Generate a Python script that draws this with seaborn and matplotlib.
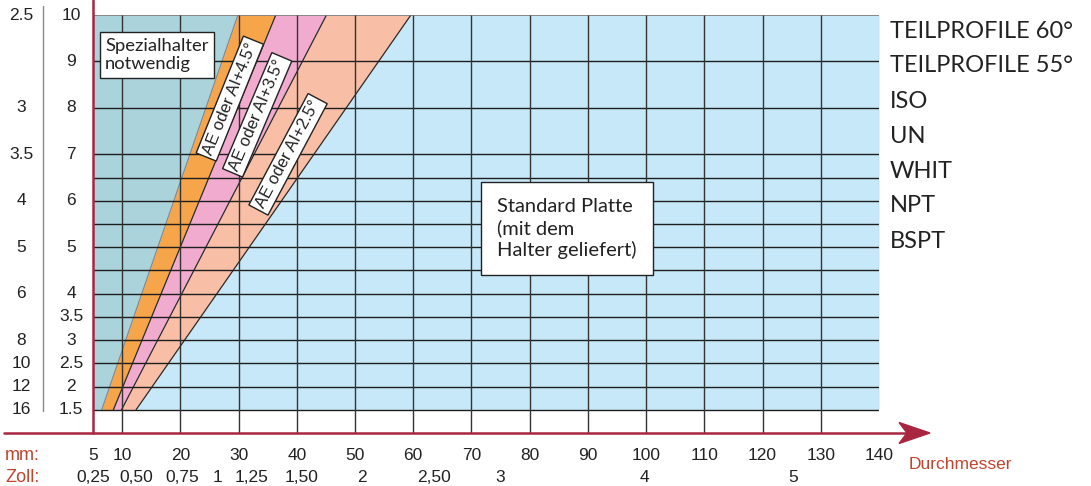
import matplotlib
matplotlib.use('Agg')
import matplotlib.pyplot as plt
import matplotlib.transforms as mtransforms
from matplotlib.patches import Polygon
import pandas as pd
import seaborn as sns


# diameter axis (mm) and inch labels
mm_ticks = [5, 10, 20, 30, 40, 50, 60, 70, 80, 90, 100, 110, 120, 130, 140]
zoll_labels = ['0,25', '0,50', '0,75', '1', '1,25', '1,50', '2', '2,50', '3', '4', '5']
zoll_at_mm = [5, 12.4, 20.3, 26.3, 32.2, 40.8, 51.2, 63.5, 75, 99.7, 125.2]

# pitch axis (mm) and threads per inch
pitch_labels = [10, 9, 8, 7, 6, 5, 4, 3.5, 3, 2.5, 2, 1.5]
pitch_grid = [1.5, 2, 2.5, 3, 3.5, 4, 4.5, 5, 5.5, 6, 6.5, 7, 8, 9]
tpi_labels = ['2.5', '3', '3.5', '4', '5', '6', '8', '10', '12', '16']
tpi_at_pitch = [10, 8, 7, 6, 5, 4, 3, 2.5, 2, 1.5]

# band borders: diameter (mm) at pitch 1.5 and at pitch 10
band_pitch = [1.5, 10]
border_special = [6.5, 29.9]
border_45 = [8.5, 36.4]
border_35 = [9.9, 45.1]
border_25 = [12.4, 59.6]

profiles = ['TEILPROFILE 60°', 'TEILPROFILE 55°', 'ISO', 'UN', 'WHIT', 'NPT', 'BSPT']

TEAL = '#aad3dc'
ORANGE = '#f7a54a'
PINK = '#f1abcf'
SALMON = '#f8bfa6'
BLUE = '#c7e8f8'
RED = '#a8263f'
LABEL_RED = '#c2432d'

sns.set_style('white')
plt.rcParams['font.family'] = ['Liberation Sans', 'DejaVu Sans']

fig = plt.figure(figsize=(10.91, 4.86), dpi=100)
ax = fig.add_axes([93 / 1091, 53 / 486, 786 / 1091, 418 / 486])
ax.set_xlim(mm_ticks[0], mm_ticks[-1])
ax.set_ylim(1.0, 10)
ax.set_axis_off()

x_lo, x_hi = mm_ticks[0], mm_ticks[-1]
ax.fill_betweenx(band_pitch, x_lo, border_special, color=TEAL, lw=0)
ax.fill_betweenx(band_pitch, border_special, border_45, color=ORANGE, lw=0)
ax.fill_betweenx(band_pitch, border_45, border_35, color=PINK, lw=0)
ax.fill_betweenx(band_pitch, border_35, border_25, color=SALMON, lw=0)
ax.fill_betweenx(band_pitch, border_25, x_hi, color=BLUE, lw=0)

borders = pd.DataFrame({
  'mm': border_special + border_45 + border_35 + border_25,
  'pitch': band_pitch * 4,
  'border': ['s'] * 2 + ['45'] * 2 + ['35'] * 2 + ['25'] * 2,
})
sns.lineplot(data=borders, x='mm', y='pitch', hue='border', estimator=None,
             palette={'s': '#888888', '45': '#2a2a2a', '35': '#2a2a2a', '25': '#2a2a2a'},
             linewidth=0.9, legend=False, ax=ax, zorder=3)

# grid
ax.hlines(pitch_grid, x_lo, x_hi, color='#1e1e1e', lw=1.0, zorder=4)
ax.hlines(band_pitch[-1], x_lo, x_hi, color='#777777', lw=1.2, zorder=4)
ax.vlines(mm_ticks[1:-1], 1.0, band_pitch[-1], color='#333333', lw=1.0, zorder=4)
ax.vlines(x_hi, band_pitch[0], band_pitch[-1], color='#aaaaaa', lw=0.8, zorder=4)

# red axes with arrow
ax.plot([0, 0], [0, 1.036], transform=ax.transAxes, color=RED, lw=1.8, clip_on=False, zorder=6)
ax.plot([-0.1132, 1.045], [0, 0], transform=ax.transAxes, color=RED, lw=1.8, clip_on=False, zorder=6)
head_tr = fig.dpi_scale_trans + mtransforms.ScaledTranslation(1.0649, 0, ax.transAxes)
ax.add_patch(Polygon([(0, 0), (-0.31, 0.105), (-0.23, 0), (-0.31, -0.105)], closed=True,
                     transform=head_tr, color=RED, clip_on=False, zorder=7))

# tick labels
xt = ax.get_xaxis_transform()
for v in mm_ticks:
  ax.text(v, -0.053, str(v), transform=xt, ha='center', va='center', fontsize=12.5, color='#222222')
for lab, v in zip(zoll_labels, zoll_at_mm):
  ax.text(v, -0.107, lab, transform=xt, ha='center', va='center', fontsize=12.5,
          family=['Liberation Sans Narrow', 'Liberation Sans'], color='#222222')
yt = ax.get_yaxis_transform()
for v in pitch_labels:
  ax.text(-0.028, v, f'{v:g}', transform=yt, ha='center', va='center', fontsize=12.5, color='#222222')
for lab, v in zip(tpi_labels, tpi_at_pitch):
  ax.text(-0.0916, v, lab, transform=yt, ha='center', va='center', fontsize=12.5, color='#222222')
ax.plot([-0.0642, -0.0642], [band_pitch[0] - 0.02, 10.2], transform=yt, color='#888888', lw=1.0, clip_on=False)

fig.text(5 / 1091, 1 - 455 / 486, 'mm:', ha='left', va='center', fontsize=13, color=LABEL_RED)
fig.text(5 / 1091, 1 - 477 / 486, 'Zoll:', ha='left', va='center', fontsize=13, color=LABEL_RED)
fig.text(909 / 1091, 1 - 464 / 486, 'Durchmesser', ha='left', va='center', fontsize=12.5, color=LABEL_RED)

for i, name in enumerate(profiles):
  fig.text(890 / 1091, 1 - (31 + 35 * i) / 486, name, ha='left', va='center',
           fontsize=17, family=['Lato', 'DejaVu Sans'], color='#222222')

# boxes
ax.text(7.1, 9.14, 'Spezialhalter\nnotwendig', ha='left', va='center', fontsize=13.2,
        family=['Lato', 'DejaVu Sans'], color='#222222', linespacing=1.2, zorder=8,
        bbox=dict(boxstyle='square,pad=0.3', fc='white', ec='#222222', lw=1.0))
ax.text(74.4, 5.4, 'Standard Platte\n(mit dem\nHalter geliefert)', ha='left', va='center',
        fontsize=14.5, family=['Lato', 'DejaVu Sans'], color='#222222', linespacing=1.25, zorder=8,
        bbox=dict(boxstyle='square,pad=0.8', fc='white', ec='#222222', lw=1.0))

band_labels = ['AE oder AI+4.5°', 'AE oder AI+3.5°', 'AE oder AI+2.5°']
for lab, x, y, rot in zip(band_labels, [28.5, 33.2, 38.5], [8.2, 7.85, 7.0], [68, 67, 62]):
  ax.text(x, y, lab, ha='center', va='center', rotation=rot, rotation_mode='anchor',
          fontsize=12, color='#222222', zorder=8,
          bbox=dict(boxstyle='square,pad=0.2', fc='white', ec='#222222', lw=1.0))

fig.savefig('out.png', dpi=100)
